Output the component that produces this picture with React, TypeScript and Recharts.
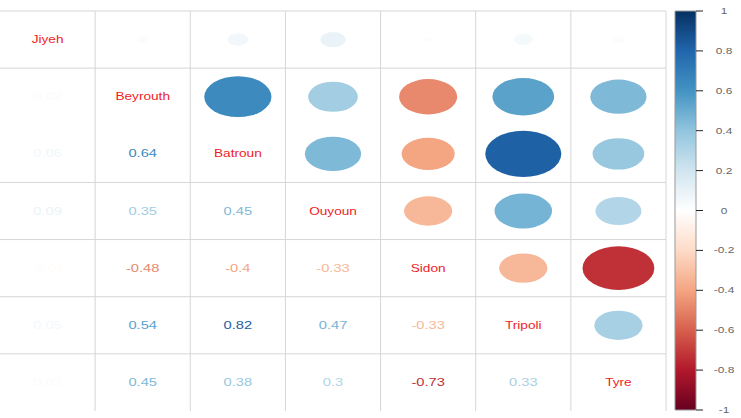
import React from "react";
import {
  ScatterChart,
  Scatter,
  XAxis,
  YAxis,
  ReferenceLine,
  BarChart,
  Bar,
} from "recharts";

const labels = ["Jiyeh", "Beyrouth", "Batroun", "Ouyoun", "Sidon", "Tripoli", "Tyre"];

const corr = [
  [1, 0.02, 0.06, 0.09, -0.01, 0.05, 0.02],
  [0.02, 1, 0.64, 0.35, -0.48, 0.54, 0.45],
  [0.06, 0.64, 1, 0.45, -0.4, 0.82, 0.38],
  [0.09, 0.35, 0.45, 1, -0.33, 0.47, 0.3],
  [-0.01, -0.48, -0.4, -0.33, 1, -0.33, -0.73],
  [0.05, 0.54, 0.82, 0.47, -0.33, 1, 0.33],
  [0.02, 0.45, 0.38, 0.3, -0.73, 0.33, 1],
];

const legendTicks = [1, 0.8, 0.6, 0.4, 0.2, 0, -0.2, -0.4, -0.6, -0.8, -1];
const legendRange = [{ name: "corr", range: [-1, 1] }];

// RdBu palette used by corrplot, from -1 to 1
const palette = [
  "#67001F", "#B2182B", "#D6604D", "#F4A582", "#FDDBC7", "#FFFFFF",
  "#D1E5F0", "#92C5DE", "#4393C3", "#2166AC", "#053061",
];

function hex(c: string) {
  return [1, 3, 5].map((i) => parseInt(c.slice(i, i + 2), 16));
}

function colorOf(v: number) {
  const t = ((v + 1) / 2) * (palette.length - 1);
  const i = Math.min(Math.floor(t), palette.length - 2);
  const f = t - i;
  const a = hex(palette[i]);
  const b = hex(palette[i + 1]);
  const m = a.map((x, k) => Math.round(x + (b[k] - x) * f));
  return `rgb(${m[0]},${m[1]},${m[2]})`;
}

const upper: { x: number; y: number; r: number }[] = [];
const lower: { x: number; y: number; r: number }[] = [];
const diag: { x: number; y: number; name: string }[] = [];
corr.forEach((row, i) =>
  row.forEach((r, j) => {
    if (i === j) diag.push({ x: j + 1, y: i + 1, name: labels[i] });
    else if (j > i) upper.push({ x: j + 1, y: i + 1, r });
    else lower.push({ x: j + 1, y: i + 1, r });
  })
);

const FONT = "'Liberation Sans', Arial, sans-serif";

const Circle = (props: any) => {
  const { cx, cy, payload } = props;
  const s = Math.sqrt(Math.abs(payload.r));
  return <ellipse cx={cx} cy={cy} rx={42 * s} ry={25.5 * s} fill={colorOf(payload.r)} />;
};

const Num = (props: any) => {
  const { cx, cy, payload } = props;
  return (
    <text
      transform={`translate(${cx},${cy}) scale(1.4,1)`}
      textAnchor="middle"
      dy={3.6}
      fontSize={10.5}
      fontFamily={FONT}
      fill={colorOf(payload.r)}
    >
      {String(payload.r)}
    </text>
  );
};

const Name = (props: any) => {
  const { cx, cy, payload } = props;
  return (
    <text
      transform={`translate(${cx},${cy}) scale(1.3,1)`}
      textAnchor="middle"
      dy={3.6}
      fontSize={10.5}
      fontFamily={FONT}
      fill="#ee1c25"
    >
      {payload.name}
    </text>
  );
};

const LegendTick = (props: any) => {
  const { x, y, payload } = props;
  return (
    <text
      transform={`translate(${x + 19},${y}) scale(1.4,1)`}
      textAnchor="middle"
      dy={3}
      fontSize={8.5}
      fontFamily={FONT}
      fill="#666"
    >
      {String(payload.value)}
    </text>
  );
};

const vLines = [1.5, 2.5, 3.5, 4.5, 5.5, 6.5, 7.5];
const hLines = [0.5, 1.5, 3.5, 4.5, 5.5, 6.5];

export default function App() {
  return (
    <div style={{ position: "absolute", left: 0, top: 0, width: 741, height: 418, background: "#fff" }}>
      <div style={{ position: "absolute", left: 0, top: 0 }}>
        <ScatterChart width={741} height={418} margin={{ top: 11, right: 75, bottom: 7, left: 0 }}>
          <XAxis type="number" dataKey="x" domain={[0.5, 7.5]} hide />
          <YAxis type="number" dataKey="y" domain={[0.5, 7.5]} reversed hide />
          {vLines.map((v) => (
            <ReferenceLine key={"v" + v} x={v} stroke="#d6d6d6" strokeWidth={1} />
          ))}
          {hLines.map((v) => (
            <ReferenceLine key={"h" + v} y={v} stroke="#d6d6d6" strokeWidth={1} />
          ))}
          <Scatter data={upper} shape={Circle} isAnimationActive={false} />
          <Scatter data={lower} shape={Num} isAnimationActive={false} />
          <Scatter data={diag} shape={Name} isAnimationActive={false} />
        </ScatterChart>
      </div>
      <div style={{ position: "absolute", left: 660, top: 0 }}>
        <BarChart
          width={81}
          height={418}
          data={legendRange}
          margin={{ top: 11, right: 0, bottom: 8, left: 15 }}
          barCategoryGap={0}
        >
          <defs>
            <linearGradient id="cbar" x1="0" y1="0" x2="0" y2="1">
              {palette
                .slice()
                .reverse()
                .map((c, i) => (
                  <stop key={i} offset={`${(i / (palette.length - 1)) * 100}%`} stopColor={c} />
                ))}
            </linearGradient>
          </defs>
          <XAxis dataKey="name" hide />
          <YAxis
            type="number"
            orientation="right"
            domain={[-1, 1]}
            ticks={legendTicks}
            width={45}
            axisLine={false}
            tickSize={7}
            tickLine={{ stroke: "#222" }}
            tick={LegendTick}
            interval={0}
          />
          <Bar dataKey="range" fill="url(#cbar)" stroke="#999" strokeWidth={1} isAnimationActive={false} />
        </BarChart>
      </div>
    </div>
  );
}
